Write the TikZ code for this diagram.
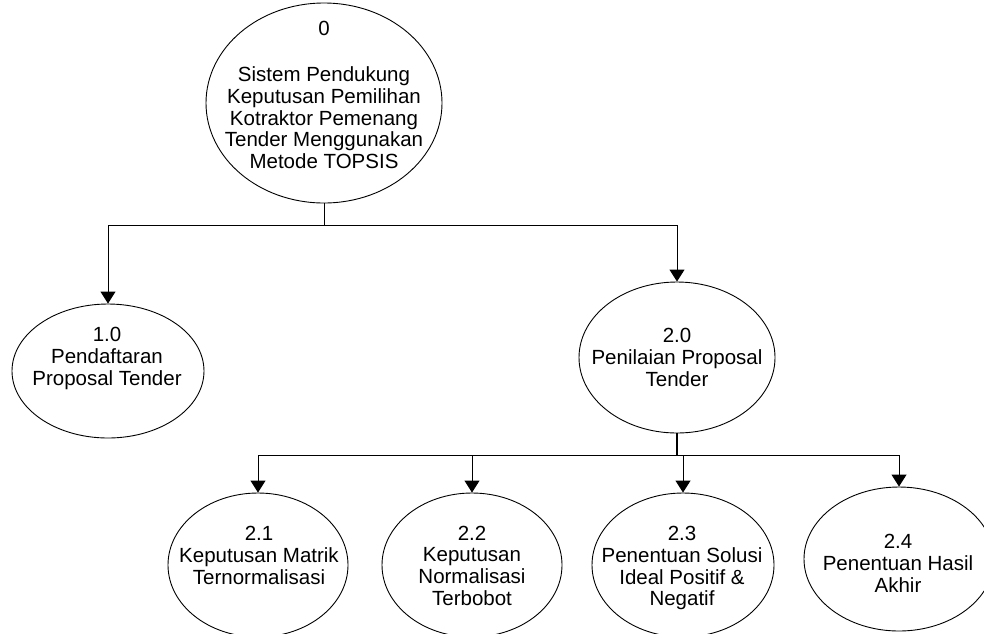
\documentclass[tikz,border=0pt]{standalone}
\usepackage{fontspec}
\setmainfont{Liberation Sans}
\usetikzlibrary{shapes.geometric,arrows.meta}
\begin{document}
\begin{tikzpicture}[x=1pt,y=-1pt,
  proc/.style={ellipse, draw, line width=0.9pt, inner sep=0pt},
  lbl/.style={align=center, inner sep=0pt, font=\fontsize{20.5}{20}\selectfont},
  link/.style={line width=0.9pt},
  arr/.style={link, -{Triangle[width=15pt,length=12pt]}},
]
\clip (0,0) rectangle (984,633);

% process bubbles
\node[proc, minimum width=236pt, minimum height=200pt] (p0)  at (324,103) {};
\node[proc, minimum width=192pt, minimum height=134pt] (p1)  at (108,371) {};
\node[proc, minimum width=196pt, minimum height=151pt] (p2)  at (677,357.5) {};
\node[proc, minimum width=180pt, minimum height=144pt] (p21) at (258,565) {};
\node[proc, minimum width=180pt, minimum height=144pt] (p22) at (472,565) {};
\node[proc, minimum width=182pt, minimum height=144pt] (p23) at (683,565) {};
\node[proc, minimum width=190pt, minimum height=144pt] (p24) at (899,559) {};

% bubble captions
\node[lbl] (t0) at (324,98) {\strut 0\\[24pt]\strut Sistem Pendukung\\\strut Keputusan Pemilihan\\\strut Kotraktor Pemenang\\\strut Tender Menggunakan\\\strut Metode TOPSIS};
\node[lbl] (t1) at (107,359) {\strut 1.0\\\strut Pendaftaran\\\strut Proposal Tender};
\node[lbl] (t2) at (677,360.5) {\strut 2.0\\\strut Penilaian Proposal\\\strut Tender};
\node[lbl] (t21) at (259,558) {\strut 2.1\\\strut Keputusan Matrik\\\strut Ternormalisasi};
\node[lbl] (t22) at (472,569) {\strut 2.2\\\strut Keputusan\\\strut Normalisasi\\\strut Terbobot};
\node[lbl] (t23) at (682,569) {\strut 2.3\\\strut Penentuan Solusi\\\strut Ideal Positif \&\\\strut Negatif};
\node[lbl] (t24) at (898,566) {\strut 2.4\\\strut Penentuan Hasil\\\strut Akhir};

% level 0 -> level 1
\coordinate (bus0) at (324,225);
\draw[link] (p0.south) -- (bus0);
\draw[arr] (bus0) -| (p1.north);
\draw[arr] (bus0) -| (p2.north);

% level 1 -> level 2
\coordinate (bus2) at (0,455);
\coordinate (j2) at (p2.south |- bus2);
\draw[link, line width=1.6pt] (p2.south) -- (j2);
\draw[arr] (j2) -| (p21.north);
\draw[arr] (j2) -| (p22.north);
\draw[arr] (j2) -| (p23.north);
\draw[arr] (j2) -| (p24.north);
\end{tikzpicture}
\end{document}
